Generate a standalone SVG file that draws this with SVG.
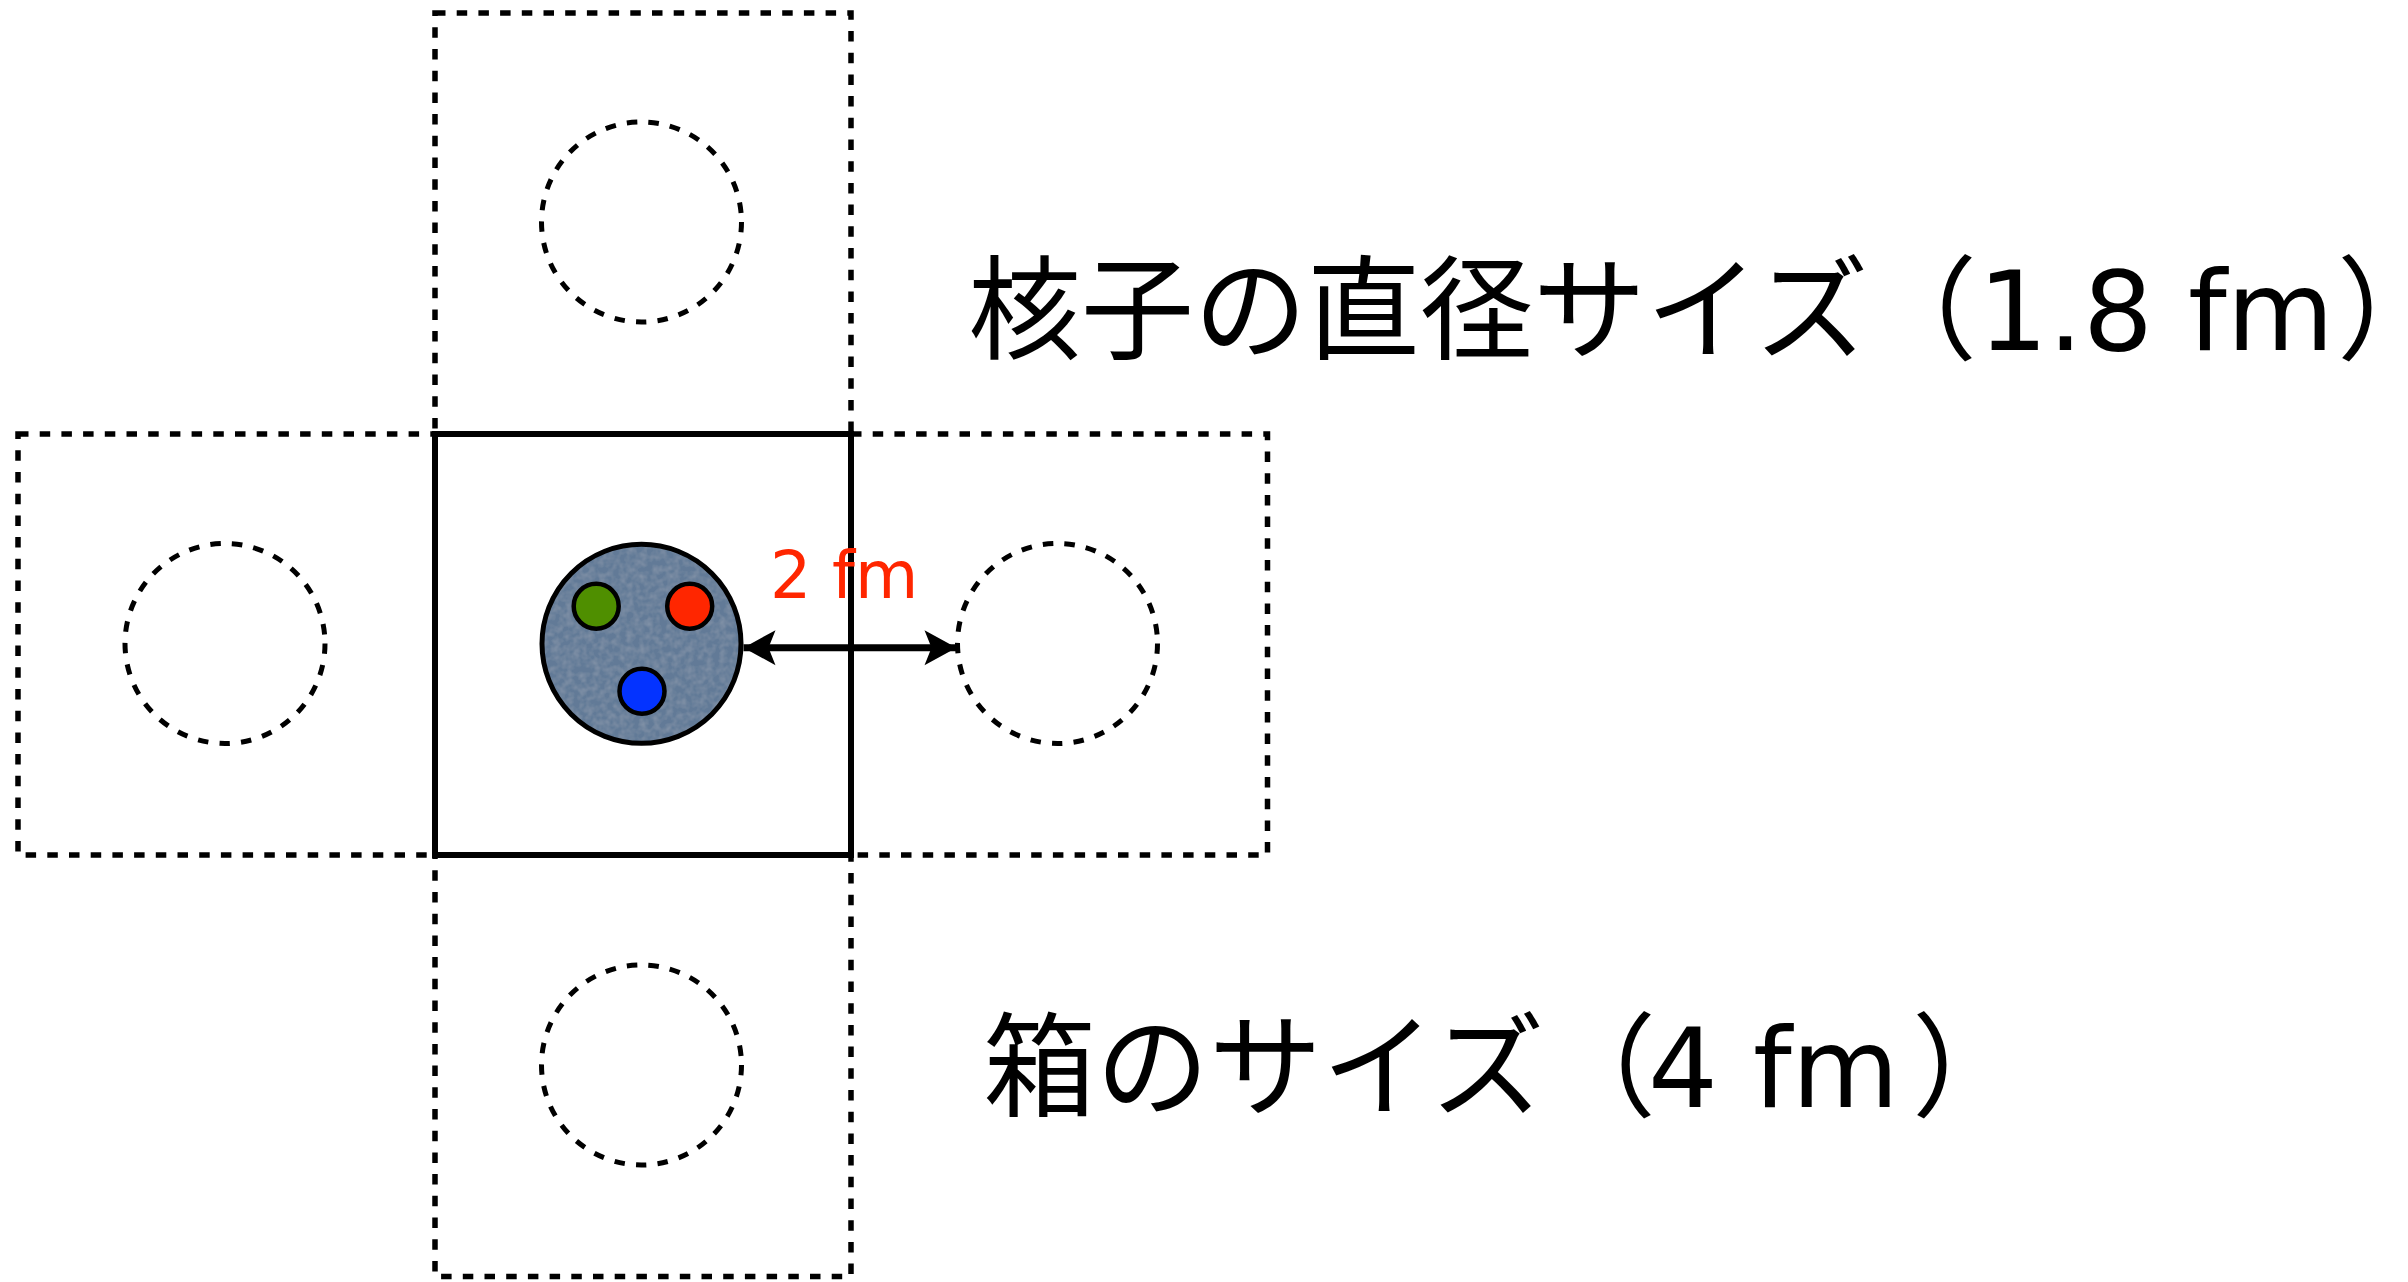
<svg xmlns="http://www.w3.org/2000/svg" width="2408" height="1282" viewBox="0 0 2408 1282">
  <style>
    .cell { fill: none; stroke: #000; stroke-width: 5.5; stroke-dasharray: 10.5 11.2; }
    .ghost { fill: none; stroke: #000; stroke-width: 5; stroke-dasharray: 10.5 11.2; }
    .box { fill: none; stroke: #000; stroke-width: 6; }
    .quark { stroke: #000; stroke-width: 4.5; }
    .jp { font-family: "Noto Sans CJK JP", sans-serif; font-size: 113px; fill: #000; }
    .lat { font-family: "DejaVu Sans", sans-serif; font-size: 110px; }
    .half { font-feature-settings: "halt"; }
    .dist { font-family: "DejaVu Sans", sans-serif; font-size: 65px; fill: #ff2600; }
  </style>
  <defs>
    <filter id="grain" x="0" y="0" width="1" height="1">
      <feTurbulence type="fractalNoise" baseFrequency="0.15" numOctaves="2" seed="4" result="noise"/>
      <feColorMatrix in="noise" type="matrix" values="0 0 0 0 1  0 0 0 0 1  0 0 0 0 1  0.2 0 0 0 -0.07" result="speck"/>
      <feComposite in="speck" in2="SourceGraphic" operator="in" result="clip"/>
      <feMerge>
        <feMergeNode in="SourceGraphic"/>
        <feMergeNode in="clip"/>
      </feMerge>
    </filter>
    <marker id="head" viewBox="0 0 34 36" refX="34" refY="18" markerWidth="34" markerHeight="36" markerUnits="userSpaceOnUse" orient="auto-start-reverse">
      <path d="M34 18 L2 0.5 L9 18 L2 35.5 Z" fill="#000"/>
    </marker>
  </defs>

  <!-- neighbouring periodic cells -->
  <g id="cell-top">
    <rect class="cell" x="435" y="13" width="416" height="421"/>
    <circle class="ghost" cx="641.5" cy="222" r="100"/>
  </g>
  <g id="cell-left">
    <rect class="cell" x="18" y="434" width="417" height="421"/>
    <circle class="ghost" cx="225" cy="643.5" r="100"/>
  </g>
  <g id="cell-right">
    <rect class="cell" x="851" y="434" width="416.5" height="421"/>
    <circle class="ghost" cx="1057.5" cy="643.5" r="100"/>
  </g>
  <g id="cell-bottom">
    <rect class="cell" x="435" y="855" width="416" height="421.5"/>
    <circle class="ghost" cx="641.5" cy="1065" r="100"/>
  </g>

  <!-- central box with the nucleon -->
  <g id="cell-center">
    <rect class="box" x="435" y="434" width="416" height="421"/>
  </g>
  <g id="nucleon">
    <circle cx="641.5" cy="643.8" r="99.5" fill="#627a97" filter="url(#grain)"/>
    <circle cx="641.5" cy="643.8" r="99.5" fill="none" stroke="#000" stroke-width="5"/>
    <circle class="quark" cx="596.2" cy="606.2" r="22.5" fill="#4f8f00"/>
    <circle class="quark" cx="689.7" cy="606.2" r="22.5" fill="#ff2600"/>
    <circle class="quark" cx="642" cy="691.3" r="22.5" fill="#0433ff"/>
  </g>

  <!-- separation arrow -->
  <g id="connectors">
    <line x1="743.5" y1="647.7" x2="956.5" y2="647.7" stroke="#000" stroke-width="7" marker-start="url(#head)" marker-end="url(#head)"/>
  </g>

  <g id="labels">
    <text class="dist" x="770" y="598">2 fm</text>
    <text class="jp" y="350"><tspan x="968">核子の直径サイズ</tspan><tspan x="1864">（</tspan><tspan class="lat" x="1978">1.8 fm</tspan><tspan class="half" x="2337">）</tspan></text>
    <text class="jp" y="1107"><tspan x="983">箱のサイズ</tspan><tspan x="1543">（</tspan><tspan class="lat" x="1648">4 fm</tspan><tspan class="half" x="1912">）</tspan></text>
  </g>
</svg>
